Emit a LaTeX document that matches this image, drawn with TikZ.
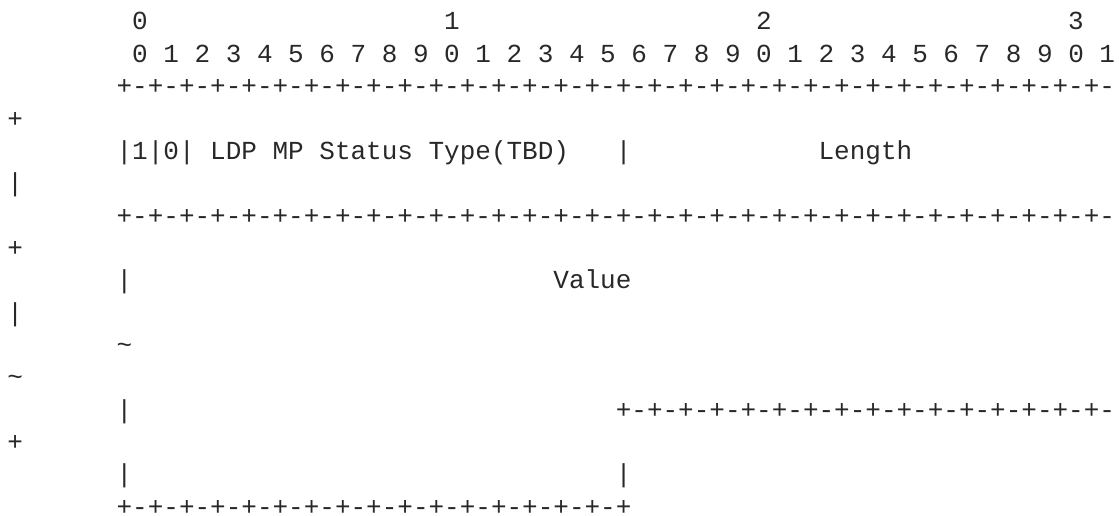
\documentclass[tikz,border=0pt]{standalone}
\usepackage{fontspec}
\newfontfamily\asciifont{Liberation Mono}
\definecolor{ink}{RGB}{40,40,40}
\tikzset{
  txt/.style={anchor=base west, inner sep=0pt, outer sep=0pt, text=ink,
    font=\asciifont\fontsize{26}{32}\selectfont}
}
% column c left edge: 7.4 + 15.6 c ; row r baseline: 30 + 32.35 r
\newcommand{\cx}[1]{\fpeval{7.4+15.6*(#1)}}
\newcommand{\ry}[1]{\fpeval{-(30+32.35*(#1))}}
\begin{document}
\begin{tikzpicture}[x=1pt,y=1pt]
\useasboundingbox (0,0) rectangle (1119,-516);
\def\Pe{+-+-+-+-}
% row 0
\node[txt] (h0) at (\cx{8},\ry{0}) {0};
\node[txt] (h1) at (\cx{28},\ry{0}) {1};
\node[txt] (h2) at (\cx{48},\ry{0}) {2};
\node[txt] (h3) at (\cx{68},\ry{0}) {3};
% row 1
\node[txt] (bits) at (\cx{8},\ry{1}) {0 1 2 3 4 5 6 7 8 9 0 1 2 3 4 5 6 7 8 9 0 1 2 3 4 5 6 7 8 9 0 1};
% row 2
\node[txt] (top) at (\cx{7},\ry{2}) {\Pe\Pe\Pe\Pe\Pe\Pe\Pe\Pe};
\node[txt] (w3) at (\cx{0},\ry{3}) {+};
% row 4
\node[txt] (type) at (\cx{7},\ry{4}) {|1|0| LDP MP Status Type(TBD)};
\node[txt] (sep4) at (\cx{39},\ry{4}) {|};
\node[txt] (len) at (\cx{52},\ry{4}) {Length};
\node[txt] (w5) at (\cx{0},\ry{5}) {|};
% row 6
\node[txt] (mid) at (\cx{7},\ry{6}) {\Pe\Pe\Pe\Pe\Pe\Pe\Pe\Pe};
\node[txt] (w7) at (\cx{0},\ry{7}) {+};
% row 8
\node[txt] (l8) at (\cx{7},\ry{8}) {|};
\node[txt] (val) at (\cx{35},\ry{8}) {Value};
\node[txt] (w9) at (\cx{0},\ry{9}) {|};
% row 10
\node[txt] (t10) at (\cx{7},\ry{10}) {\textasciitilde};
\node[txt] (w11) at (\cx{0},\ry{11}) {\textasciitilde};
% row 12
\node[txt] (l12) at (\cx{7},\ry{12}) {|};
\node[txt] (part) at (\cx{39},\ry{12}) {\Pe\Pe\Pe\Pe};
\node[txt] (w13) at (\cx{0},\ry{13}) {+};
% row 14
\node[txt] (l14) at (\cx{7},\ry{14}) {|};
\node[txt] (r14) at (\cx{39},\ry{14}) {|};
% row 15
\node[txt, text depth=0pt] (bot) at (\cx{7},\ry{15}) {\Pe\Pe\Pe\Pe+};
\end{tikzpicture}
\end{document}
